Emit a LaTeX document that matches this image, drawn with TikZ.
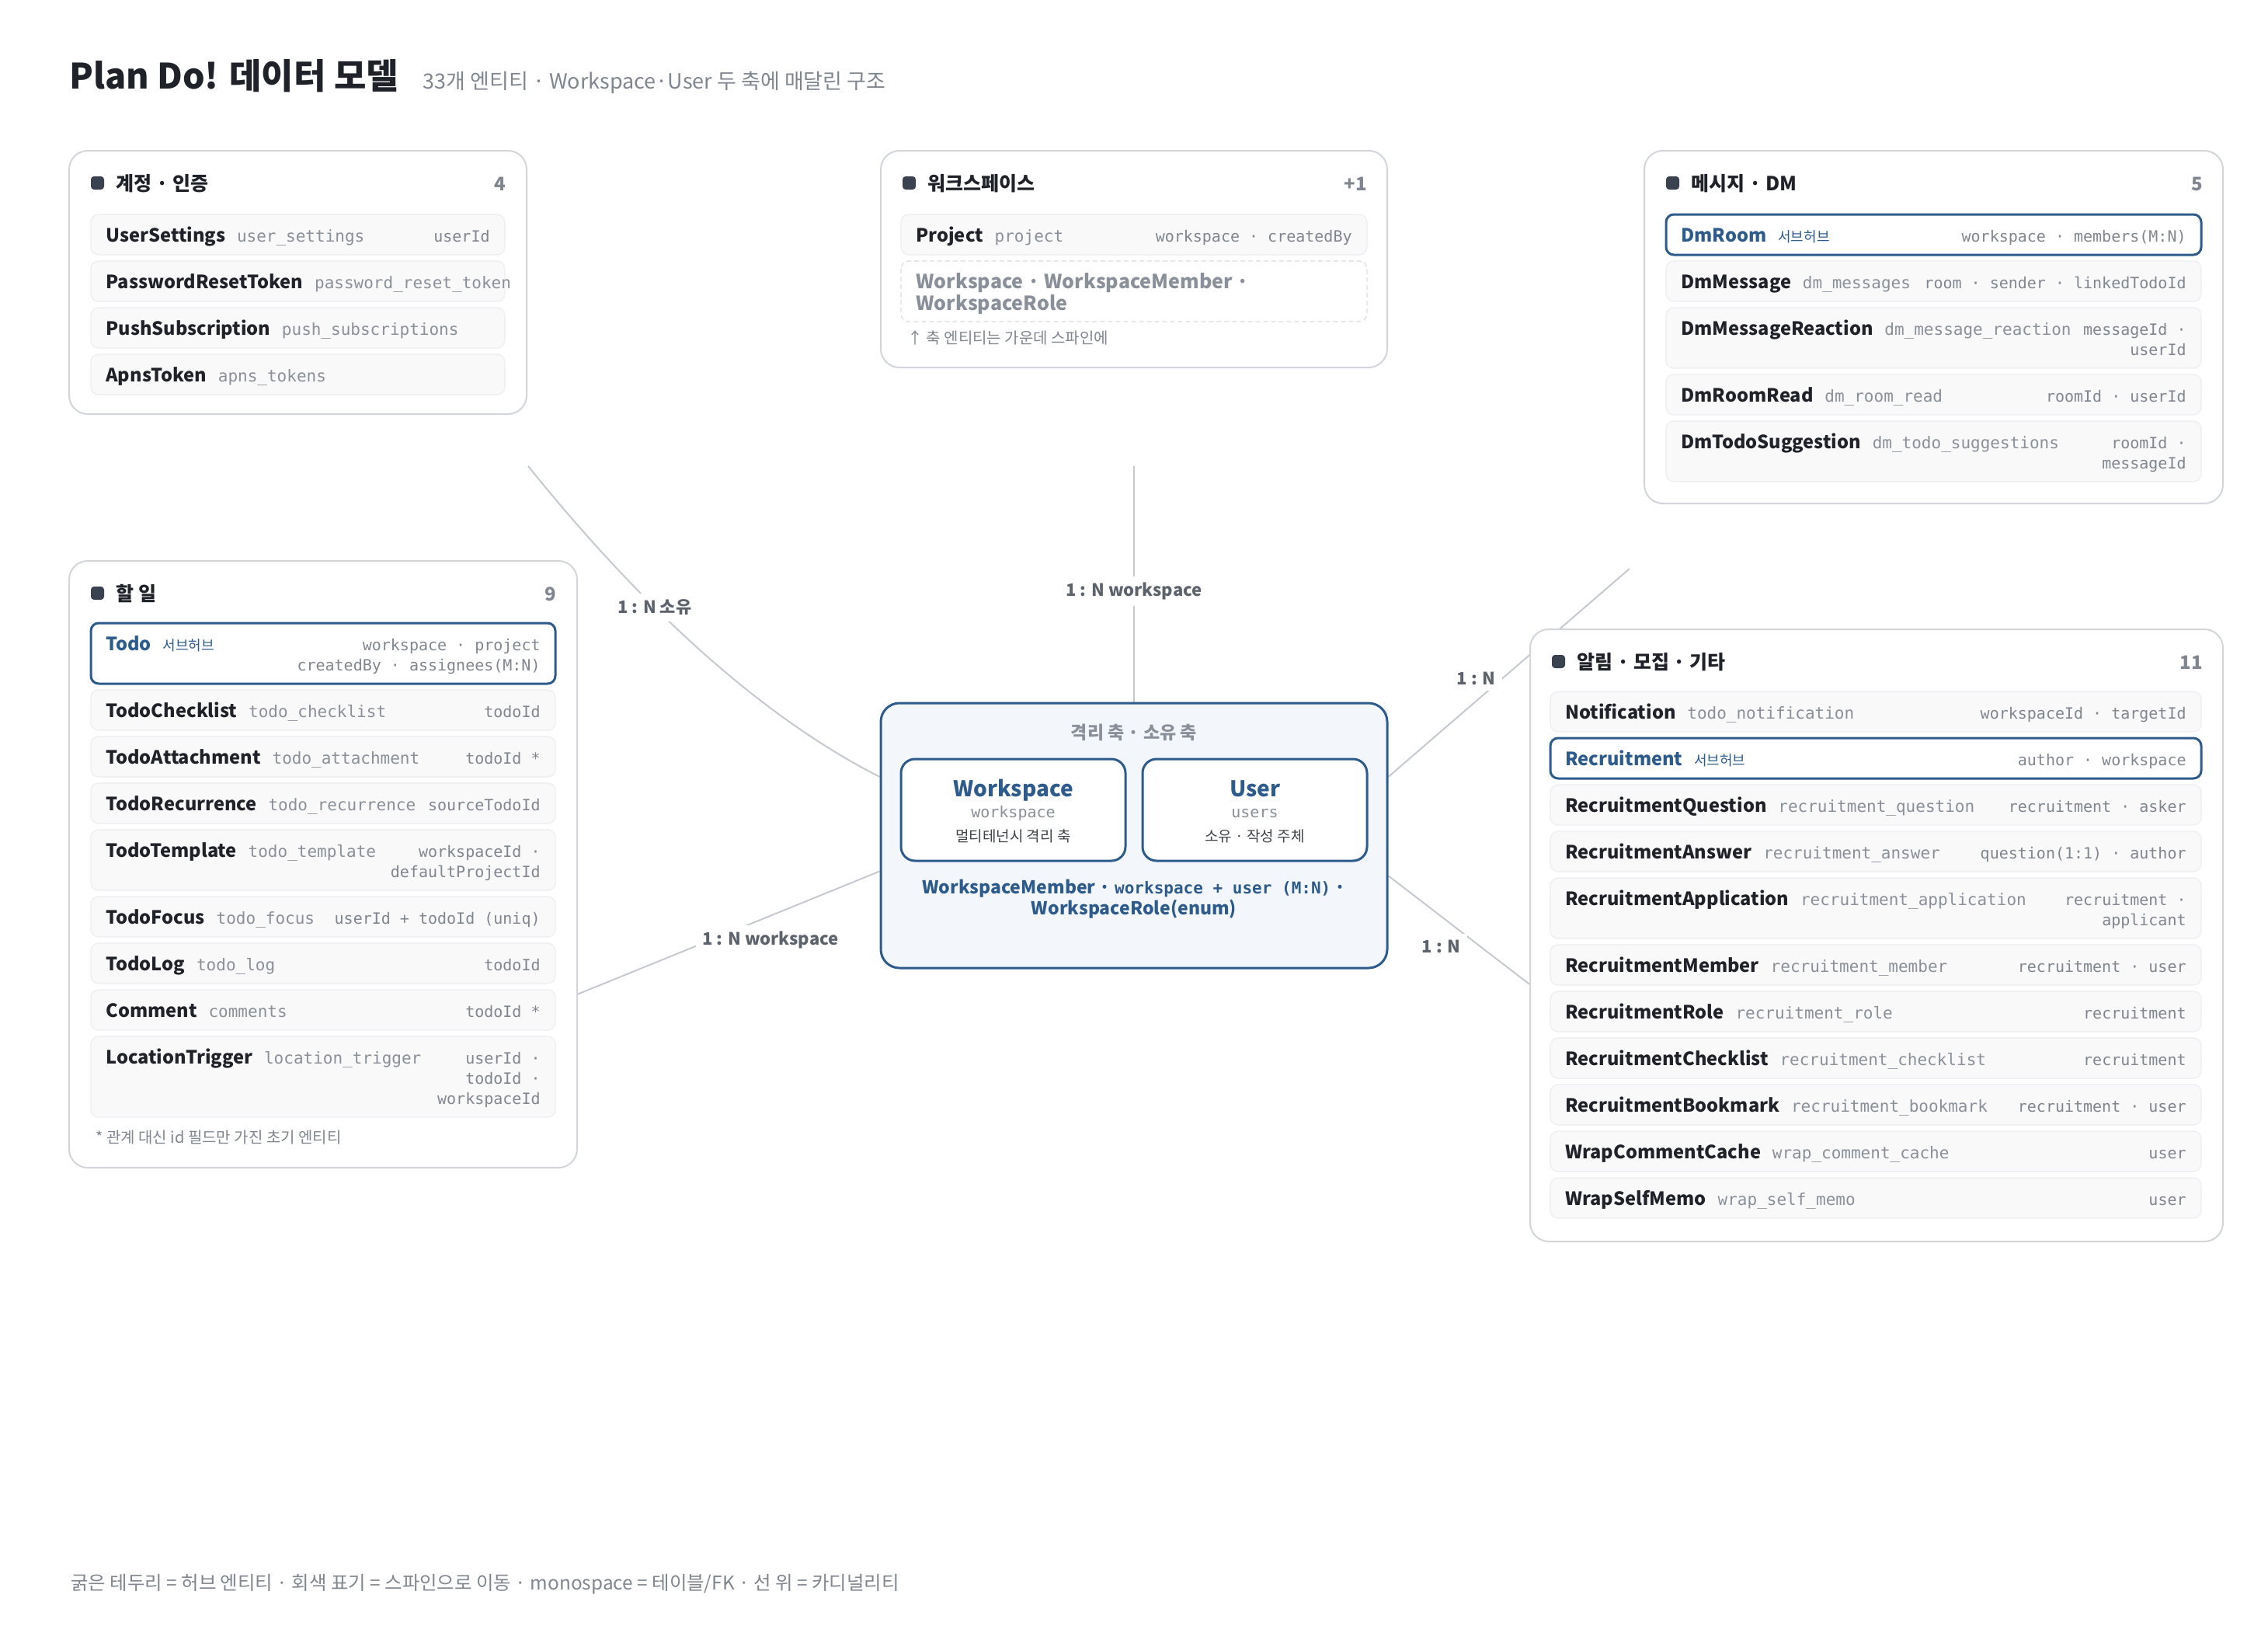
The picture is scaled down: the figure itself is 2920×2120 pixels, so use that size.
\documentclass[tikz,border=0pt]{standalone}
\usepackage{fontspec}
\setmainfont{Noto Sans CJK KR}
\setmonofont{DejaVu Sans Mono}
\usetikzlibrary{positioning,backgrounds}

\definecolor{tinta}{HTML}{1F2329}
\definecolor{gristexto}{HTML}{80868F}
\definecolor{grismono}{HTML}{8A9099}
\definecolor{azul}{HTML}{2D5B8C}
\definecolor{borde}{HTML}{D2D6DC}
\definecolor{filafondo}{HTML}{F9F9FA}
\definecolor{filaborde}{HTML}{ECEEF1}
\definecolor{linea}{HTML}{C6CAD0}
\definecolor{marca}{HTML}{3A424F}
\definecolor{ejefondo}{HTML}{F3F6FB}
\definecolor{etiqueta}{HTML}{5C636C}

\newcommand{\lineas}[1]{\begin{tabular}[t]{@{}r@{}}#1\end{tabular}}
% cabecera de grupo: id, izq, arriba, der, texto, cuenta
\newcommand{\cabecera}[6]{%
  \fill[marca, rounded corners=2pt] (#2+28,#3+33) rectangle (#2+45,#3+50);
  \node[cabeza] (#1-h) at (#2+60,#3+51) {#5};
  \node[cuenta] (#1-c) at (#4-26,#3+51) {#6};
}
% fila de entidad: id, arriba, abajo, nombre, tabla, campos
\newcommand{\entidad}[6]{%
  \draw[fila] (\izq,#2) rectangle (\der,#3);
  \node[nombre] (#1) at (\izq+19,#2+35) {#4};
  \node[tabla] (#1-t) at ([xshift=7pt]#1.base east) {#5};
  \node[campo] (#1-f) at (\der-19,#2+35) {\lineas{#6}};
}
% fila de subhub: id, arriba, abajo, nombre, campos
\newcommand{\hub}[5]{%
  \draw[filahub] (\izq,#2) rectangle (\der,#3);
  \node[nombre, text=azul] (#1) at (\izq+19,#2+35) {#4};
  \node[sub] (#1-s) at ([xshift=7pt]#1.base east) {서브허브};
  \node[campo] (#1-f) at (\der-19,#2+35) {\lineas{#5}};
}

\begin{document}
\begin{tikzpicture}[x=0.5pt, y=-0.5pt,
    grupo/.style={draw=borde, line width=1pt, fill=white, rounded corners=12pt, inner sep=0pt},
    fila/.style={draw=filaborde, line width=0.6pt, fill=filafondo, rounded corners=5pt},
    filahub/.style={draw=azul, line width=1.5pt, fill=white, rounded corners=5pt},
    punteada/.style={draw=filaborde!85!gray, line width=0.6pt, dash pattern=on 3pt off 2pt, rounded corners=5pt},
    nombre/.style={anchor=base west, inner sep=0pt, text=tinta, font=\fontsize{11.8}{15}\selectfont\bfseries},
    tabla/.style={anchor=base west, inner sep=0pt, text=grismono, font=\ttfamily\fontsize{10.5}{13}\selectfont},
    campo/.style={anchor=base east, inner sep=0pt, text=gristexto, font=\ttfamily\fontsize{10}{13}\selectfont},
    sub/.style={anchor=base west, inner sep=0pt, text=azul, font=\fontsize{9}{11}\selectfont},
    cabeza/.style={anchor=base west, inner sep=0pt, text=tinta, font=\fontsize{12.5}{15}\selectfont\bfseries},
    cuenta/.style={anchor=base east, inner sep=0pt, text=gristexto, font=\fontsize{12}{15}\selectfont\bfseries},
    nota/.style={anchor=base west, inner sep=0pt, text=gristexto, font=\fontsize{10}{12}\selectfont},
    enlace/.style={draw=linea, line width=1pt},
    etiq/.style={fill=white, inner sep=4pt, text=etiqueta, font=\fontsize{11}{13}\selectfont\bfseries},
    eje/.style={draw=azul, line width=1.5pt, fill=ejefondo, rounded corners=12pt},
    interno/.style={draw=azul, line width=1.5pt, fill=white, rounded corners=9pt},
    ejetit/.style={anchor=base, inner sep=0pt, text=azul, font=\fontsize{14}{17}\selectfont\bfseries},
    ejemono/.style={anchor=base, inner sep=0pt, text=grismono, font=\ttfamily\fontsize{10}{12}\selectfont},
    ejedesc/.style={anchor=base, inner sep=0pt, text=tinta!85, font=\fontsize{9.5}{12}\selectfont},
  ]
  \useasboundingbox (0,0) rectangle (2920,2120);

  % Título
  \node[anchor=base west, inner sep=0pt, text=tinta, font=\fontsize{22.5}{26}\selectfont\bfseries] (titulo) at (89,114) {Plan Do! 데이터 모델};
  \node[right=15.5pt of titulo.base east, anchor=base west, inner sep=0pt, text=gristexto, font=\fontsize{13.5}{16}\selectfont] (subtitulo) {33개 엔티티 · Workspace·User 두 축에 매달린 구조};

  % Grupos
  \node[grupo, minimum width=294.5pt, minimum height=169.5pt] (g-cuenta) at (383.5,363.5) {};
  \node[grupo, minimum width=326pt, minimum height=139.5pt] (g-ws) at (1460,333.5) {};
  \node[grupo, minimum width=372.5pt, minimum height=227pt] (g-dm) at (2489.5,421) {};
  \node[grupo, minimum width=327pt, minimum height=390.5pt] (g-todo) at (416,1112.5) {};
  \node[grupo, minimum width=446pt, minimum height=394pt] (g-alarm) at (2416,1204) {};

  % 계정 · 인증
  \cabecera{cu}{89}{194}{678}{계정 · 인증}{4}
  \def\izq{117}\def\der{650}
  \entidad{us}{276}{328}{UserSettings}{user\_settings}{userId}
  \entidad{prt}{336}{388}{PasswordResetToken}{password\_reset\_token}{}
  \entidad{ps}{396}{448}{PushSubscription}{push\_subscriptions}{}
  \entidad{apn}{456}{508}{ApnsToken}{apns\_tokens}{}

  % 워크스페이스
  \cabecera{ws}{1134}{194}{1786}{워크스페이스}{+1}
  \def\izq{1160}\def\der{1760}
  \entidad{prj}{276}{328}{Project}{project}{workspace · createdBy}
  \draw[punteada] (\izq,336) rectangle (\der,414);
  \node[nombre, text=grismono, font=\fontsize{12.5}{14}\selectfont\bfseries] (wsx) at (\izq+19,371) {\begin{tabular}[t]{@{}l@{}}Workspace · WorkspaceMember ·\\WorkspaceRole\end{tabular}};
  \node[nota] (wsn) at (1168,442) {↑ 축 엔티티는 가운데 스파인에};

  % 메시지 · DM
  \cabecera{dm}{2117}{194}{2862}{메시지 · DM}{5}
  \def\izq{2145}\def\der{2834}
  \hub{dmr}{276}{328}{DmRoom}{workspace · members(M:N)}
  \entidad{dmm}{336}{388}{DmMessage}{dm\_messages}{room · sender · linkedTodoId}
  \entidad{dmx}{396}{474}{DmMessageReaction}{dm\_message\_reaction}{messageId ·\\userId}
  \entidad{dmrr}{482}{534}{DmRoomRead}{dm\_room\_read}{roomId · userId}
  \entidad{dmts}{542}{620}{DmTodoSuggestion}{dm\_todo\_suggestions}{roomId ·\\messageId}

  % 할 일
  \cabecera{td}{89}{722}{743}{할 일}{9}
  \def\izq{117}\def\der{715}
  \hub{todo}{802}{880}{Todo}{workspace · project\\createdBy · assignees(M:N)}
  \entidad{tdc}{888}{940}{TodoChecklist}{todo\_checklist}{todoId}
  \entidad{tda}{948}{1000}{TodoAttachment}{todo\_attachment}{todoId *}
  \entidad{tdr}{1008}{1060}{TodoRecurrence}{todo\_recurrence}{sourceTodoId}
  \entidad{tdt}{1068}{1146}{TodoTemplate}{todo\_template}{workspaceId ·\\defaultProjectId}
  \entidad{tdf}{1154}{1206}{TodoFocus}{todo\_focus}{userId + todoId (uniq)}
  \entidad{tdl}{1214}{1266}{TodoLog}{todo\_log}{todoId}
  \entidad{cmt}{1274}{1326}{Comment}{comments}{todoId *}
  \entidad{loc}{1334}{1438}{LocationTrigger}{location\_trigger}{userId ·\\todoId ·\\workspaceId}
  \node[nota] (tdn) at (123,1471) {* 관계 대신 id 필드만 가진 초기 엔티티};

  % 알림 · 모집 · 기타
  \cabecera{al}{1970}{810}{2862}{알림 · 모집 · 기타}{11}
  \def\izq{1996}\def\der{2834}
  \entidad{ntf}{890}{942}{Notification}{todo\_notification}{workspaceId · targetId}
  \hub{rcr}{950}{1002}{Recruitment}{author · workspace}
  \entidad{rq}{1010}{1062}{RecruitmentQuestion}{recruitment\_question}{recruitment · asker}
  \entidad{ra}{1070}{1122}{RecruitmentAnswer}{recruitment\_answer}{question(1:1) · author}
  \entidad{rap}{1130}{1208}{RecruitmentApplication}{recruitment\_application}{recruitment ·\\applicant}
  \entidad{rm}{1216}{1268}{RecruitmentMember}{recruitment\_member}{recruitment · user}
  \entidad{rr}{1276}{1328}{RecruitmentRole}{recruitment\_role}{recruitment}
  \entidad{rc}{1336}{1388}{RecruitmentChecklist}{recruitment\_checklist}{recruitment}
  \entidad{rb}{1396}{1448}{RecruitmentBookmark}{recruitment\_bookmark}{recruitment · user}
  \entidad{wcc}{1456}{1508}{WrapCommentCache}{wrap\_comment\_cache}{user}
  \entidad{wsm}{1516}{1568}{WrapSelfMemo}{wrap\_self\_memo}{user}

  % Eje central
  \node[eje, minimum width=326pt, minimum height=170.5pt] (eje) at (1460,1075.5) {};
  \node[anchor=base, inner sep=0pt, text=grismono, font=\fontsize{11.5}{14}\selectfont\bfseries] (eje-t) at (1460,951) {격리 축 · 소유 축};
  \node[interno, minimum width=144.5pt, minimum height=65.5pt] (n-ws) at (1304.5,1042.5) {};
  \node[interno, minimum width=144.5pt, minimum height=65.5pt] (n-us) at (1615.5,1042.5) {};
  \node[ejetit] (n-ws-a) at (1304.5,1025) {Workspace};
  \node[ejemono] (n-ws-b) at (1304.5,1052) {workspace};
  \node[ejedesc] (n-ws-c) at (1304.5,1083) {멀티테넌시 격리 축};
  \node[ejetit] (n-us-a) at (1615.5,1025) {User};
  \node[ejemono] (n-us-b) at (1615.5,1052) {users};
  \node[ejedesc] (n-us-c) at (1615.5,1083) {소유 · 작성 주체};
  \node[anchor=base, inner sep=0pt, text=azul, font=\fontsize{11.5}{13}\selectfont\bfseries] (eje-m) at (1460,1150) {\begin{tabular}[t]{@{}c@{}}WorkspaceMember · {\ttfamily\fontsize{10.5}{13}\selectfont workspace + user (M:N)} ·\\WorkspaceRole(enum)\end{tabular}};

  % Conectores
  \coordinate (c-cu) at (680,600);
  \coordinate (c-ws) at (1460,600);
  \coordinate (c-dm) at (2098,732);
  \begin{scope}[on background layer]
    \fill[white] (0,0) rectangle (2920,2120);
    \draw[enlace] (c-cu) .. controls (837,795) and (989,927) .. (eje.167) node[etiq, pos=0.35] (l-cu) {1 : N 소유};
    \draw[enlace] (c-ws) -- (eje.north) node[etiq, pos=0.53] (l-ws) {1 : N workspace};
    \draw[enlace] (c-dm) -- (eje.13) node[etiq, pos=0.59, xshift=-7pt, yshift=8.5pt] (l-dm) {1 : N};
    \draw[enlace] (eje.351) -- (g-alarm.188) node[etiq, pos=0.48, xshift=-9.4pt, yshift=-12.2pt] (l-al) {1 : N};
    \draw[enlace] (eje.188) -- (g-todo.333) node[etiq, pos=0.39, xshift=5.5pt, yshift=-13.5pt] (l-td) {1 : N workspace};
  \end{scope}

  % Pie
  \node[anchor=base west, inner sep=0pt, text=gristexto, font=\fontsize{12.2}{14}\selectfont] (pie) at (91,2046) {굵은 테두리 = 허브 엔티티 · 회색 표기 = 스파인으로 이동 · monospace = 테이블/FK · 선 위 = 카디널리티};
\end{tikzpicture}
\end{document}
